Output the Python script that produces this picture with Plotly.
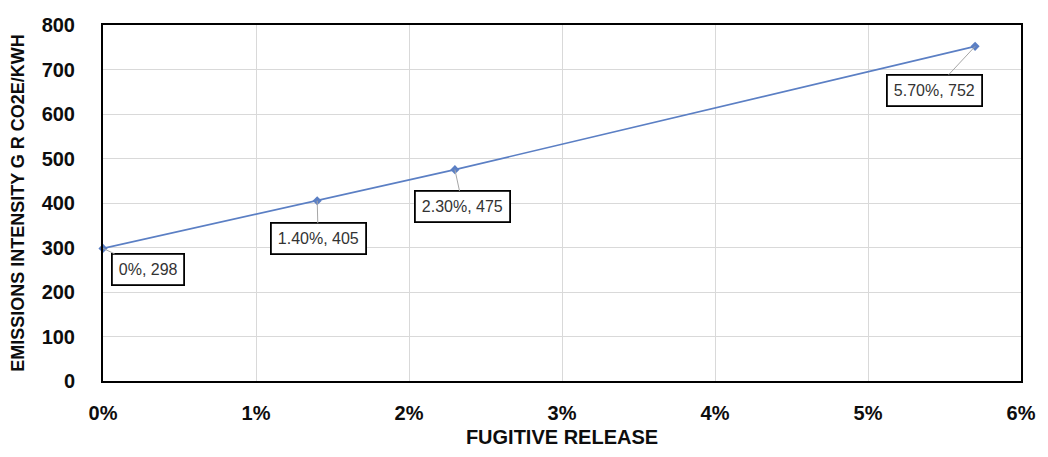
import plotly.graph_objects as go

# Data
release = [0.0, 0.014, 0.023, 0.057]
intensity = [298, 405, 475, 752]
point_labels = ["0%, 298", "1.40%, 405", "2.30%, 475", "5.70%, 752"]
label_offsets = [(45, 21), (1, 38), (8, 37), (-41, 44)]
x_ticks = [0, 0.01, 0.02, 0.03, 0.04, 0.05, 0.06]
y_ticks = [0, 100, 200, 300, 400, 500, 600, 700, 800]

FONT = "Liberation Sans, Arial, sans-serif"
LINE_BLUE = "#5b7fc4"

fig = go.Figure()
fig.add_trace(go.Scatter(
    x=release, y=intensity, mode="lines+markers",
    line=dict(color=LINE_BLUE, width=1.6),
    marker=dict(symbol="diamond", size=7, color=LINE_BLUE),
    showlegend=False, hoverinfo="skip", cliponaxis=False,
))

for xv, yv, txt, (ax, ay) in zip(release, intensity, point_labels, label_offsets):
    fig.add_annotation(
        x=xv, y=yv, text=txt, showarrow=True, arrowhead=0, arrowwidth=1,
        arrowcolor="#a6a6a6", ax=ax, ay=ay, axref="pixel", ayref="pixel",
        bgcolor="white", bordercolor="black", borderwidth=1.8, borderpad=6,
        font=dict(family=FONT, size=16, color="#333333"),
    )

fig.update_layout(
    width=1048, height=457,
    margin=dict(l=103, r=21, t=25, b=73),
    paper_bgcolor="white", plot_bgcolor="white",
    font=dict(family=FONT, color="#0d0d0d"),
)
fig.update_xaxes(
    range=[0, 0.06], tickvals=x_ticks, tickformat=".0%",
    showgrid=True, gridcolor="#d9d9d9", gridwidth=1,
    showline=True, linecolor="black", linewidth=2, mirror=True,
    zeroline=False, ticks="", ticklabelstandoff=13,
    tickfont=dict(family=FONT, size=20, color="#0d0d0d", weight="bold"),
    title=dict(text="FUGITIVE RELEASE", standoff=7,
               font=dict(family=FONT, size=20, color="#0d0d0d", weight="bold")),
)
fig.update_yaxes(
    range=[0, 800], tickvals=y_ticks,
    showgrid=True, gridcolor="#d9d9d9", gridwidth=1,
    showline=True, linecolor="black", linewidth=2, mirror=True,
    zeroline=False, ticks="", ticklabelstandoff=22,
    tickfont=dict(family=FONT, size=20, color="#0d0d0d", weight="bold"),
    title=dict(text="EMISSIONS INTENSITY G R CO2E/KWH", standoff=12,
               font=dict(family=FONT, size=18, color="#0d0d0d", weight="bold")),
)

fig.write_html("out.html")
